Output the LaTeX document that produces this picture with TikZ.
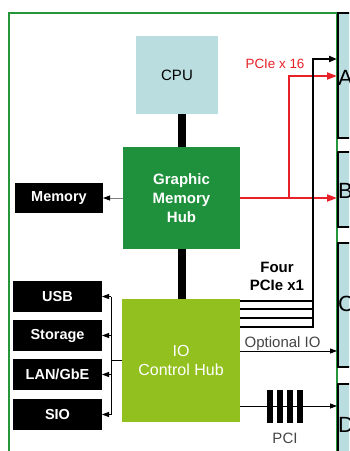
\documentclass[tikz,border=0pt]{standalone}
\usepackage{fontspec}
\setmainfont{Liberation Sans}
\usetikzlibrary{arrows.meta}
\definecolor{cpublue}{RGB}{186,221,224}
\definecolor{hubgreen}{RGB}{31,145,60}
\definecolor{framegreen}{RGB}{38,150,58}
\definecolor{iogreen}{RGB}{146,192,31}
\definecolor{pcired}{RGB}{232,32,40}
\definecolor{txtgray}{RGB}{70,70,70}
\tikzset{
  fnt/.style={font=\fontsize{15}{19}\selectfont},
  hub/.style={fnt, inner sep=0pt, outer sep=0pt, align=center, text=white},
  blackbox/.style={fill=black, text=white, inner sep=0pt, outer sep=0pt,
    minimum width=89pt, minimum height=31pt, font=\fontsize{14.5}{18}\selectfont\bfseries},
  rbox/.style={draw=black, line width=2pt, fill=cpublue, inner sep=0pt, outer sep=1pt,
    minimum width=50pt, anchor=north west},
  letter/.style={font=\fontsize{22}{24}\selectfont, inner sep=1pt, anchor=west},
  thick bus/.style={line width=8pt},
  busline/.style={line width=2pt},
  thinarr/.style={line width=0.8pt, -{Triangle[length=7pt,width=5pt]}},
  redarr/.style={pcired, line width=2pt, -{Triangle[length=10pt,width=7pt]}},
}
\begin{document}
\begin{tikzpicture}[x=1pt,y=-1pt]
\useasboundingbox (0,0) rectangle (349,451);
\fill[white] (0,0) rectangle (349,451);
\clip (0,0) rectangle (349,451);
% frame
\draw[framegreen, line width=2pt] (9,13) rectangle (337,480);
% right boxes
\node[rbox, minimum height=125pt] (A) at (337,12) {};
\node[rbox, minimum height=75pt] (B) at (337,151) {};
\node[rbox, minimum height=124pt] (C) at (337,242) {};
\node[rbox, minimum height=80pt] (D) at (337,383) {};
\node[letter] (Al) at ([yshift=-2.5pt]A.west) {A};
\node[letter] (Bl) at ([yshift=-1.5pt]B.west) {B};
\node[letter] (Cl) at ([yshift=1pt]C.west) {C};
\node[letter] (Dl) at ([yshift=-1pt]D.west) {D};
% hubs
\node[hub, fill=cpublue, text=black, minimum width=82pt, minimum height=78pt] (cpu) at (177,75) {CPU};
\node[hub, fill=hubgreen, font=\fontsize{15}{19}\selectfont\bfseries, minimum width=117pt, minimum height=102pt] (gmh) at (181.5,198) {Graphic\\Memory\\Hub};
\node[hub, fill=iogreen, font=\fontsize{16}{19}\selectfont, minimum width=118pt, minimum height=123pt] (ioch) at (181,360.5) {IO\\Control Hub};
% thick links
\draw[thick bus] (gmh.north) -- (gmh.north |- cpu.south);
\draw[thick bus] (gmh.south) -- (gmh.south |- ioch.north);
% memory
\node[blackbox, minimum width=88pt, minimum height=30pt] (mem) at (59,198) {Memory};
\draw[gray, line width=0.8pt, -{Triangle[black,length=7pt,width=5pt]}] (gmh.west) -- (mem.east);
% IO devices
\node[blackbox] (usb) at (57.5,296.5) {USB};
\node[blackbox] (sto) at (57.5,335.5) {Storage};
\node[blackbox] (lan) at (57.5,374.5) {LAN/GbE};
\node[blackbox] (sio) at (57.5,414.5) {SIO};
\coordinate (bx) at (111,360);
\draw[line width=0.8pt] (ioch.west) -- (ioch.west -| bx);
\draw[line width=0.8pt] (bx |- usb.east) -- (bx |- sio.east);
\foreach \n in {usb,sto,lan,sio}
  \draw[thinarr] (bx |- \n.east) -- (\n.east);
% PCIe x16
\coordinate (r1) at (289,198);
\coordinate (r2) at (289,76);
\draw[redarr] (gmh.east) -- (gmh.east -| B.west);
\draw[redarr] (r1) -- (r2) -- (r2 -| A.west);
\node[text=pcired, font=\fontsize{13.4}{16}\selectfont, inner sep=0pt, anchor=base] (x16) at (275,68) {PCIe x 16};
% four PCIe x1
\coordinate (bt) at (313,59);
\foreach \dy in {1.5,10,19,28}
  \draw[busline] ([yshift=-\dy pt]ioch.north east) -- ++(73,0);
\coordinate (bb) at (313,327.5);
\draw[busline, -{Triangle[length=8pt,width=6pt]}] (bb) -- (bt) -- (bt -| A.west);
\node[fnt, font=\fontsize{15}{18}\selectfont\bfseries, align=center, inner sep=0pt] (four) at (277,276) {Four\\PCIe x1};
% optional IO
\coordinate (oio) at (240,351);
\draw[thinarr] (oio) -- (oio -| C.west);
\node[fnt, text=txtgray, inner sep=0pt, anchor=base west] (oiot) at (244.5,347) {Optional IO};
% PCI
\coordinate (pci) at (240,406);
\draw[thinarr] (pci) -- (pci -| D.west);
\foreach \x in {270,280,289.5,299.5}
  \fill (\x-3,390) rectangle (\x+3,423);
\node[fnt, text=txtgray, inner sep=0pt] (pcit) at (285,438) {PCI};
\end{tikzpicture}
\end{document}
